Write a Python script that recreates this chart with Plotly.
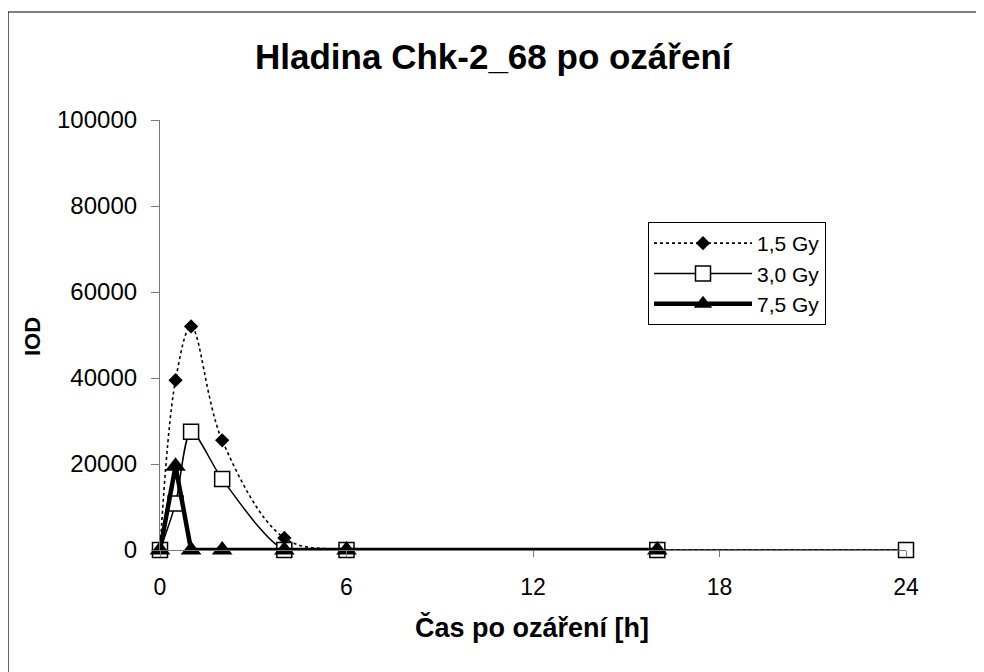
import plotly.graph_objects as go

# Data
time_h = [0, 0.5, 1, 2, 4, 6, 16, 24]
gy_1_5 = [0, 39500, 52000, 25500, 2800, 0, 0, 0]
gy_3_0 = [0, 10800, 27500, 16500, 0, 0, 0, 0]
gy_7_5 = [0, 19500, 0, 0, 0, 0, 0, None]
series_names = ["1,5 Gy", "3,0 Gy", "7,5 Gy"]
x_ticks = [0, 6, 12, 18, 24]
y_ticks = [0, 20000, 40000, 60000, 80000, 100000]

FONT = "Liberation Sans, Arial, sans-serif"

fig = go.Figure()
fig.add_trace(go.Scatter(
    x=time_h, y=gy_1_5, name=series_names[0], mode="lines+markers",
    line=dict(color="black", width=1.6, dash="dot", shape="spline", smoothing=1.0),
    marker=dict(symbol="diamond", size=11, color="black"),
    cliponaxis=False,
))
fig.add_trace(go.Scatter(
    x=time_h, y=gy_3_0, name=series_names[1], mode="lines+markers",
    line=dict(color="black", width=1.5, shape="spline", smoothing=0.8),
    marker=dict(symbol="square", size=15, color="white", line=dict(color="black", width=1.5)),
    cliponaxis=False,
))
fig.add_trace(go.Scatter(
    x=time_h, y=gy_7_5, name=series_names[2], mode="lines+markers",
    line=dict(color="black", width=4.5),
    marker=dict(symbol="triangle-up", size=18, color="black"),
    cliponaxis=False,
))

# the page shows the figure shifted by the 8px body margin
OFF = 8
L, T = 160 - OFF, 120 - OFF
R = 984 - (906 - OFF)
B = 672 - (550 - OFF)
PW, PH = 984 - L - R, 672 - T - B


def px_x(px):
    return (px - OFF - L) / PW


def px_y(py):
    return (672 - B - (py - OFF)) / PH


fig.update_layout(
    width=984, height=672,
    margin=dict(l=L, r=R, t=T, b=B),
    paper_bgcolor="white", plot_bgcolor="white",
    font=dict(family=FONT, color="black"),
    showlegend=True,
    legend=dict(x=px_x(648), y=px_y(222), xanchor="left", yanchor="top",
                bordercolor="black", borderwidth=1, bgcolor="white",
                font=dict(size=21, family=FONT), itemwidth=98,
                tracegroupgap=0),
    annotations=[
        dict(text="<b>Hladina Chk-2_68 po ozáření</b>", xref="paper", yref="paper",
             x=px_x(494), y=px_y(56), xanchor="center", yanchor="middle",
             showarrow=False, font=dict(size=35, family=FONT)),
        dict(text="<b>Čas po ozáření [h]</b>", xref="paper", yref="paper",
             x=px_x(532), y=px_y(627), xanchor="center", yanchor="middle",
             showarrow=False, font=dict(size=27, family=FONT)),
        dict(text="<b>IOD</b>", xref="paper", yref="paper", textangle=-90,
             x=px_x(32), y=px_y(337), xanchor="center", yanchor="middle",
             showarrow=False, font=dict(size=22, family=FONT)),
    ],
    shapes=[
        dict(type="line", xref="paper", yref="paper", x0=px_x(8), x1=px_x(1000),
             y0=px_y(12), y1=px_y(12), line=dict(color="black", width=1.2)),
        dict(type="line", xref="paper", yref="paper", x0=px_x(8), x1=px_x(8),
             y0=px_y(12), y1=px_y(690), line=dict(color="black", width=1.2)),
    ],
)

fig.update_xaxes(
    range=[0, 24], tickvals=x_ticks, ticktext=[str(v) for v in x_ticks],
    showgrid=False, zeroline=False, showline=True, linecolor="#777", linewidth=1.2,
    ticks="outside", ticklen=6, tickcolor="#777", tickfont=dict(size=23, family=FONT),
    ticklabelstandoff=10,
)
fig.update_yaxes(
    range=[0, 100000], tickvals=y_ticks, ticktext=[str(v) for v in y_ticks],
    showgrid=False, zeroline=False, showline=True, linecolor="#777", linewidth=1.2,
    ticks="outside", ticklen=8, tickcolor="#777", tickfont=dict(size=24, family=FONT),
    ticklabelstandoff=9,
)

fig.write_html("out.html")
